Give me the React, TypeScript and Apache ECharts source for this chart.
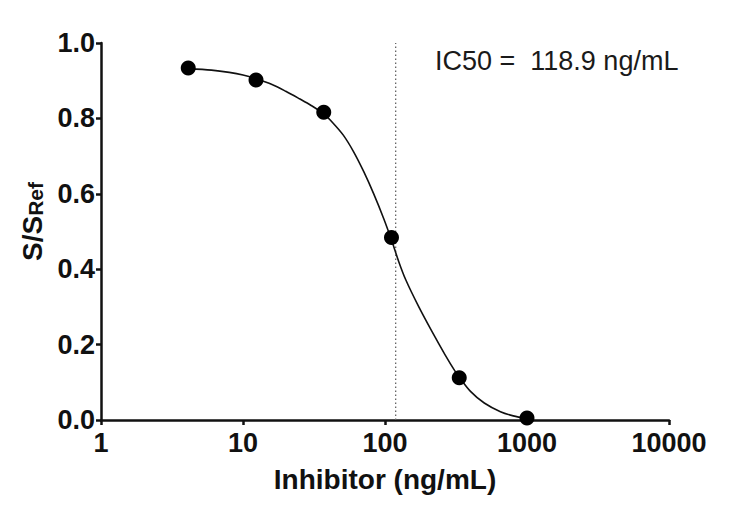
import React, { useEffect, useRef } from "react";
import * as echarts from "echarts";

// measured data points (3-fold dilutions)
const concentrations = [4.115, 12.35, 37.04, 111.1, 333.3, 1000];
const responses = [0.934, 0.902, 0.816, 0.484, 0.112, 0.005];

// fitted curve
const curveX = [4.115, 6, 8, 10, 12.35, 16, 20, 25, 30, 37, 43, 51, 60, 71, 83, 98, 111, 125, 140, 172, 214, 265, 312, 333, 400, 500, 650, 800, 1000];
const curveY = [0.932, 0.928, 0.922, 0.915, 0.905, 0.89, 0.872, 0.852, 0.835, 0.812, 0.788, 0.755, 0.712, 0.658, 0.601, 0.534, 0.478, 0.42, 0.372, 0.302, 0.235, 0.173, 0.129, 0.114, 0.076, 0.045, 0.022, 0.011, 0.004];

const ic50 = 118.9;
const ic50Label = "IC50 =  118.9 ng/mL";
const xTicks = [1, 10, 100, 1000, 10000];
const yTicks = [0, 0.2, 0.4, 0.6, 0.8, 1.0];

const FONT = "'Liberation Sans', Arial, Helvetica, sans-serif";

export default function App() {
  const ref = useRef<HTMLDivElement>(null);
  useEffect(() => {
    if (!ref.current) return;
    const chart = echarts.init(ref.current, undefined, { renderer: "svg" });
    const axisLine = { show: true, lineStyle: { color: "#111", width: 2.5 } };
    const axisTick = { show: true, inside: false, length: 5, lineStyle: { color: "#111", width: 2.5 } };
    chart.setOption({
      animation: false,
      backgroundColor: "#fff",
      grid: { left: 101, right: 81, top: 43, bottom: 91 },
      xAxis: {
        type: "log",
        logBase: 10,
        min: xTicks[0],
        max: xTicks[xTicks.length - 1],
        axisLine,
        axisTick,
        minorTick: { show: false },
        splitLine: { show: false },
        axisLabel: {
          margin: 9,
          fontSize: 27,
          fontWeight: "bold",
          fontFamily: FONT,
          color: "#111",
          formatter: (v: number) => String(Math.round(v)),
        },
        name: "Inhibitor (ng/mL)",
        nameLocation: "middle",
        nameGap: 45,
        nameTextStyle: { fontSize: 28, fontWeight: "bold", fontFamily: FONT, color: "#111" },
      },
      yAxis: {
        type: "value",
        min: yTicks[0],
        max: yTicks[yTicks.length - 1],
        interval: 0.2,
        axisLine,
        axisTick,
        splitLine: { show: false },
        axisLabel: {
          margin: 6,
          fontSize: 27,
          fontWeight: "bold",
          fontFamily: FONT,
          color: "#111",
          formatter: (v: number) => v.toFixed(1),
        },
        name: "{a|S/S}{s|Ref}",
        nameLocation: "middle",
        nameRotate: 90,
        nameGap: 55,
        nameTextStyle: {
          padding: [0, 0, 0, 20],
          rich: {
            a: { fontSize: 28, fontWeight: "bold", fontFamily: FONT, color: "#111", lineHeight: 30, verticalAlign: "bottom" },
            s: { fontSize: 21, fontWeight: "bold", fontFamily: FONT, color: "#111", lineHeight: 21, padding: [12, 0, 0, 0], verticalAlign: "bottom" },
          },
        },
      },
      series: [
        {
          type: "line",
          data: [[ic50, yTicks[0]], [ic50, yTicks[yTicks.length - 1]]],
          showSymbol: false,
          symbol: "none",
          lineStyle: { color: "#666", width: 1.3, type: [1.5, 2.5] },
          z: 1,
        },
        {
          type: "line",
          data: curveX.map((x, i) => [x, curveY[i]]),
          smooth: 0.3,
          showSymbol: false,
          symbol: "none",
          lineStyle: { color: "#111", width: 1.6 },
          z: 2,
        },
        {
          type: "scatter",
          data: concentrations.map((x, i) => [x, responses[i]]),
          symbol: "circle",
          symbolSize: 15,
          itemStyle: { color: "#000", opacity: 1 },
          z: 3,
        },
      ],
      graphic: [
        {
          type: "text",
          left: 435,
          top: 47,
          style: { text: ic50Label, fontSize: 27, fontFamily: FONT, fill: "#1a1a1a" },
        },
      ],
    });
    return () => chart.dispose();
  }, []);
  return <div ref={ref} style={{ position: "fixed", left: 0, top: 0, width: 750, height: 511, background: "#fff" }} />;
}
